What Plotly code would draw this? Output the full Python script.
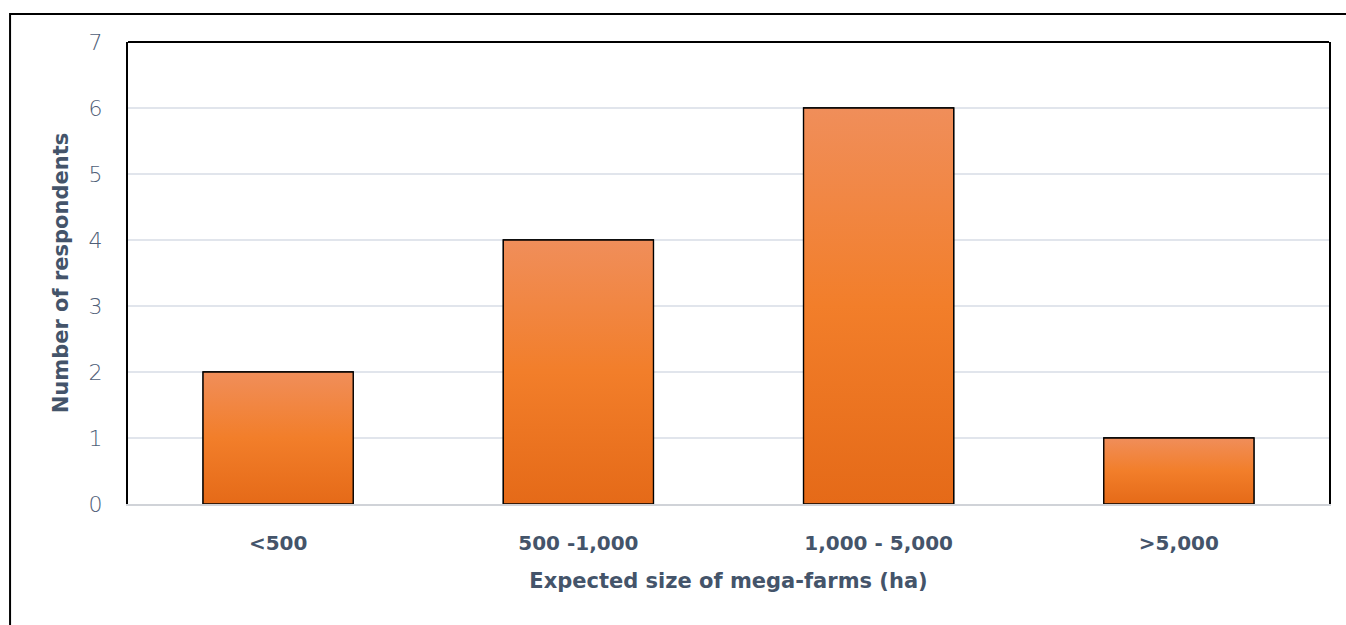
import plotly.graph_objects as go

# Survey responses: expected size of mega-farms
categories = ["<500", "500 -1,000", "1,000 - 5,000", ">5,000"]
respondents = [2, 4, 6, 1]
y_ticks = [0, 1, 2, 3, 4, 5, 6, 7]

BAR_HALF = 0.25
TEXT = "#44546A"
TICK = "#4F5E77"
FONT = "DejaVu Sans"
ORANGE_SCALE = [[0.0, "#E56A18"], [0.5, "#F27E2A"], [1.0, "#F08E5A"]]

fig = go.Figure()

# Base bars
fig.add_trace(go.Bar(
    x=list(range(len(categories))),
    y=respondents,
    width=2 * BAR_HALF,
    marker=dict(color="#F27E2A", line=dict(color="black", width=1.3)),
    hoverinfo="y",
))

# Vertical gradient shading on each bar, built from the same values
for i, v in enumerate(respondents):
    xs = [i - BAR_HALF, i + BAR_HALF, i + BAR_HALF, i - BAR_HALF, i - BAR_HALF]
    ys = [0, 0, v, v, 0]
    fig.add_trace(go.Scatter(
        x=xs, y=ys, mode="lines", fill="toself",
        fillgradient=dict(type="vertical", colorscale=ORANGE_SCALE, start=0, stop=v),
        line=dict(color="black", width=1.3),
        hoverinfo="skip", showlegend=False,
    ))

fig.update_layout(
    width=1346, height=625,
    margin=dict(l=128, r=17, t=42, b=121),
    plot_bgcolor="white", paper_bgcolor="white",
    showlegend=False,
    font=dict(family=FONT, color=TICK, size=18),
    xaxis=dict(
        range=[-0.5, len(categories) - 0.5],
        tickmode="array",
        tickvals=list(range(len(categories))),
        ticktext=categories,
        tickfont=dict(family=FONT, size=20, color=TEXT, weight="bold"),
        showgrid=False, zeroline=False,
        showline=True, linecolor="#D0D3D8", linewidth=2,
        ticks="", ticklabelstandoff=20,
        title=dict(text="Expected size of mega-farms (ha)",
                   font=dict(family=FONT, size=21, color=TEXT, weight="bold"),
                   standoff=19),
    ),
    yaxis=dict(
        range=[0, 7],
        tickmode="array", tickvals=y_ticks,
        tickfont=dict(family=FONT, size=22, color=TICK, weight=200),
        showgrid=True, gridcolor="#E1E5EC", gridwidth=2,
        zeroline=False,
        showline=True, linecolor="black", linewidth=2, mirror=True,
        ticks="", ticklabelstandoff=19,
        title=dict(text="Number of respondents",
                   font=dict(family=FONT, size=21, color=TEXT, weight="bold"),
                   standoff=14),
    ),
    shapes=[
        # top edge of plot frame
        dict(type="line", xref="paper", yref="paper", x0=0, x1=1, y0=1, y1=1,
             line=dict(color="black", width=2)),
        # outer chart border
        dict(type="rect", xref="paper", yref="paper",
             x0=-0.0982, x1=1.02, y0=-0.28, y1=1.0606,
             line=dict(color="black", width=2), layer="below"),
    ],
)

fig.write_html("out.html")
